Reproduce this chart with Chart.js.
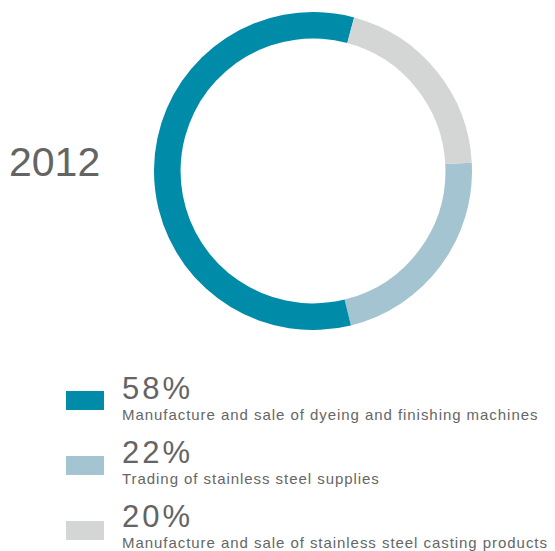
<!DOCTYPE html>
<html>
<head>
<meta charset="utf-8">
<script src="https://cdn.jsdelivr.net/npm/chart.js@4/dist/chart.umd.min.js"></script>
<style>
  html, body { margin: 0; padding: 0; background: #fff; }
  body { width: 555px; height: 551px; position: relative; overflow: hidden;
         font-family: "Liberation Sans", Arial, Helvetica, sans-serif; color: #666; }
  #year { position: absolute; left: 9px; top: 140px; font-size: 41px; line-height: 44px; color: #646464; }
  #ring { position: absolute; left: 154px; top: 12px; width: 318px; height: 318px; }
  .swatch { position: absolute; left: 66px; width: 38px; height: 19px; }
  .pct { position: absolute; left: 122px; font-size: 31px; line-height: 31px; letter-spacing: 3px; color: #646464; }
  .desc { position: absolute; left: 122px; font-size: 15px; line-height: 15px; letter-spacing: 0.95px; color: #666; white-space: nowrap; }
</style>
</head>
<body>
<div id="year"></div>
<div id="ring"><canvas id="c"></canvas></div>
<div id="legend"></div>
<script>
// Revenue breakdown by business segment
const yearLabel = '2012';
const segments = [
  'Manufacture and sale of dyeing and finishing machines',
  'Trading of stainless steel supplies',
  'Manufacture and sale of stainless steel casting products'
];
const shares = [58, 22, 20];
const colors = ['#008ca8', '#a5c4d1', '#d4d5d5'];
// clockwise drawing order around the ring, starting just above 3 o'clock
const ringOrder = [1, 0, 2];

document.getElementById('year').textContent = yearLabel;

// legend: swatch, big percentage, segment name
const legend = document.getElementById('legend');
segments.forEach((name, i) => {
  const sw = document.createElement('div');
  sw.className = 'swatch';
  sw.style.top = (391 + i * 65) + 'px';
  sw.style.background = colors[i];
  const pct = document.createElement('div');
  pct.className = 'pct';
  pct.style.top = (373 + i * 64) + 'px';
  pct.textContent = shares[i] + '%';
  const desc = document.createElement('div');
  desc.className = 'desc';
  desc.style.top = (407 + i * 64) + 'px';
  desc.textContent = name;
  legend.append(sw, pct, desc);
});

new Chart(document.getElementById('c'), {
  type: 'doughnut',
  data: {
    labels: ringOrder.map(i => segments[i]),
    datasets: [{
      data: ringOrder.map(i => shares[i]),
      backgroundColor: ringOrder.map(i => colors[i]),
      borderWidth: 0
    }]
  },
  options: {
    responsive: true,
    maintainAspectRatio: false,
    animation: false,
    cutout: '83.3%',
    rotation: 87,
    layout: { padding: 0 },
    plugins: { legend: { display: false }, tooltip: { enabled: false } }
  }
});
</script>
</body>
</html>
